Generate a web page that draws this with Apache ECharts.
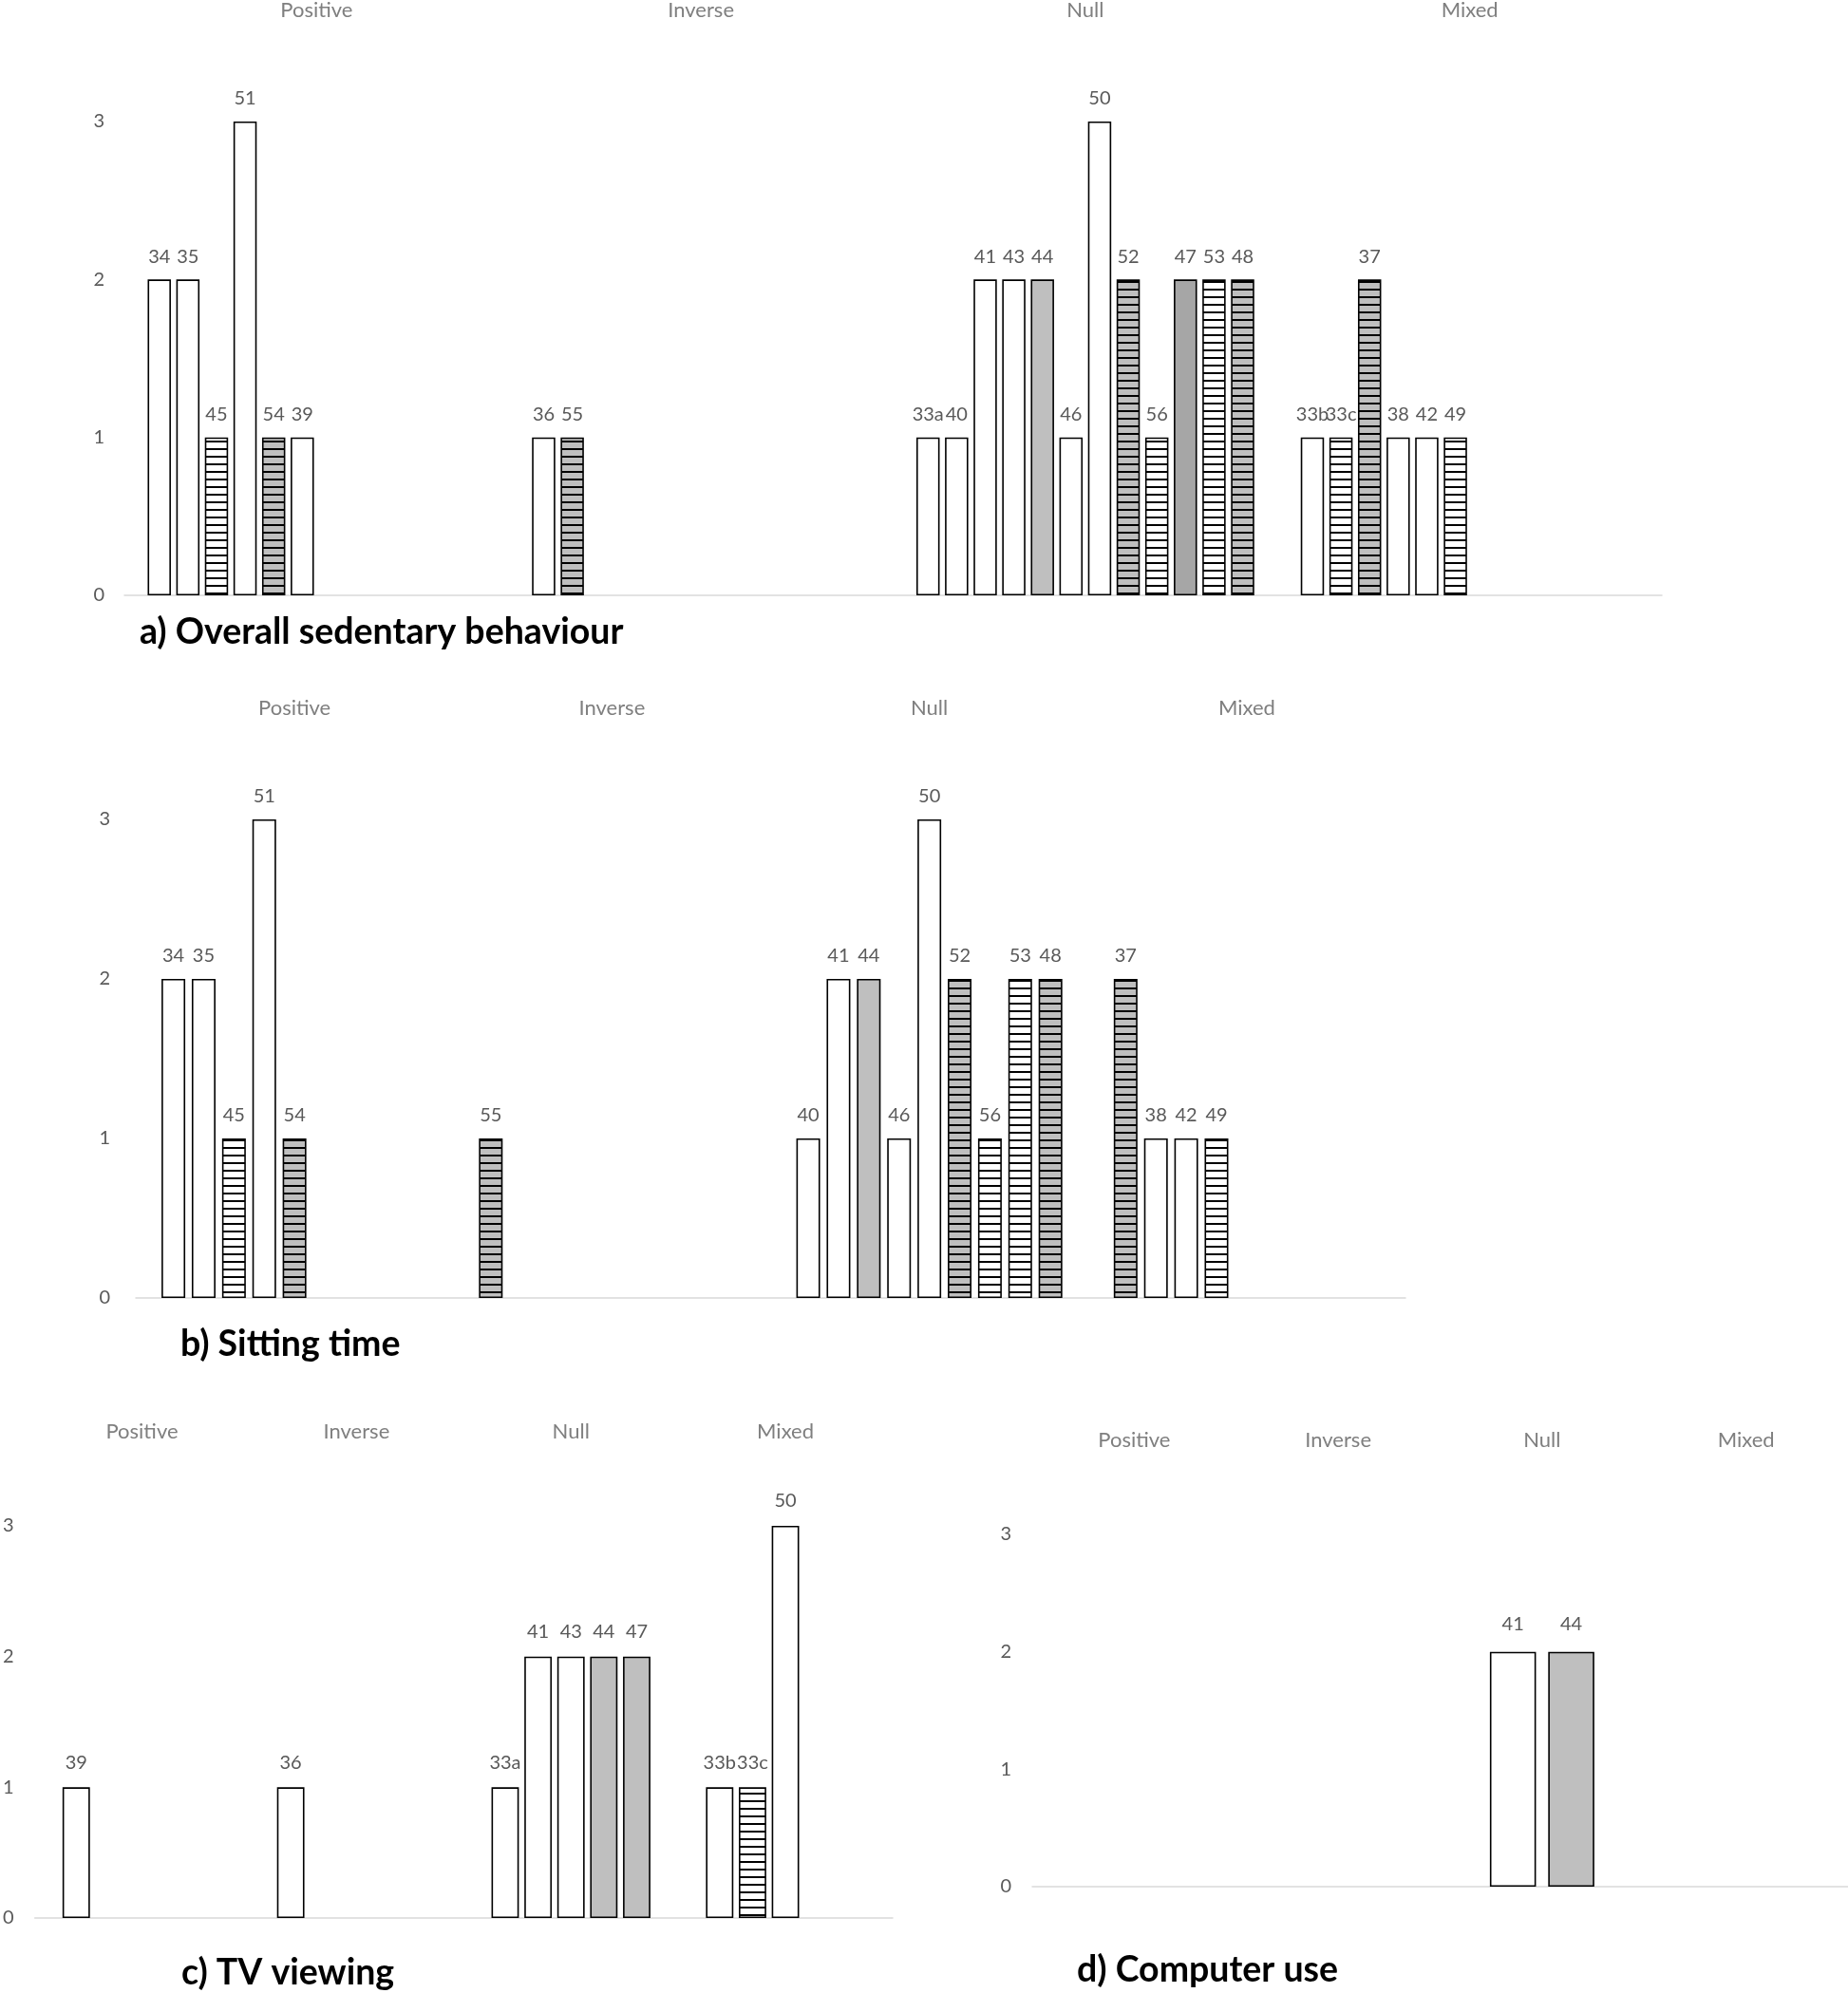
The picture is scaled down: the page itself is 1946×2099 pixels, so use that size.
<!DOCTYPE html>
<html>
<head>
<meta charset="utf-8">
<script src="https://cdn.jsdelivr.net/npm/echarts@6/dist/echarts.min.js"></script>
<style>
  html, body { margin: 0; padding: 0; background: #fff; }
  #chart { width: 1946px; height: 2099px; }
</style>
</head>
<body>
<div id="chart"></div>
<script>
// ---------------- DATA ----------------
const categories = ['Positive', 'Inverse', 'Null', 'Mixed'];
const yTicks = [0, 1, 2, 3];

// Type codes: W = white, G = light grey, D = dark grey, H = white hatched, GH = grey hatched

// a) Overall sedentary behaviour
const aStudies = [
  ['34', '35', '45', '51', '54', '39'],
  ['36', '55'],
  ['33a', '40', '41', '43', '44', '46', '50', '52', '56', '47', '53', '48'],
  ['33b', '33c', '37', '38', '42', '49']
];
const aCounts = [
  [2, 2, 1, 3, 1, 1],
  [1, 1],
  [1, 1, 2, 2, 2, 1, 3, 2, 1, 2, 2, 2],
  [1, 1, 2, 1, 1, 1]
];
const aTypes = [
  ['W', 'W', 'H', 'W', 'GH', 'W'],
  ['W', 'GH'],
  ['W', 'W', 'W', 'W', 'G', 'W', 'W', 'GH', 'H', 'D', 'H', 'GH'],
  ['W', 'H', 'GH', 'W', 'W', 'H']
];

// b) Sitting time
const bStudies = [
  ['34', '35', '45', '51', '54'],
  ['55'],
  ['40', '41', '44', '46', '50', '52', '56', '53', '48'],
  ['37', '38', '42', '49']
];
const bCounts = [
  [2, 2, 1, 3, 1],
  [1],
  [1, 2, 2, 1, 3, 2, 1, 2, 2],
  [2, 1, 1, 1]
];
const bTypes = [
  ['W', 'W', 'H', 'W', 'GH'],
  ['GH'],
  ['W', 'W', 'G', 'W', 'W', 'GH', 'H', 'H', 'GH'],
  ['GH', 'W', 'W', 'H']
];

// c) TV viewing
const cStudies = [
  ['39'],
  ['36'],
  ['33a', '41', '43', '44', '47'],
  ['33b', '33c', '50']
];
const cCounts = [
  [1],
  [1],
  [1, 2, 2, 2, 2],
  [1, 1, 3]
];
const cTypes = [
  ['W'],
  ['W'],
  ['W', 'W', 'W', 'G', 'G'],
  ['W', 'H', 'W']
];

// d) Computer use
const dStudies = [[], [], ['41', '44'], []];
const dCounts = [[], [], [2, 2], []];
const dTypes = [[], [], ['W', 'G'], []];

const panelTitles = ['a) Overall sedentary behaviour', 'b) Sitting time', 'c) TV viewing', 'd) Computer use'];

// ---------------- STYLE ----------------
function hatch(bg) {
  const c = document.createElement('canvas');
  c.width = 8; c.height = 8;
  const ctx = c.getContext('2d');
  ctx.fillStyle = bg; ctx.fillRect(0, 0, 8, 8);
  ctx.fillStyle = '#000'; ctx.fillRect(0, 0, 8, 2);
  return { image: c, repeat: 'repeat' };
}
const FILL = {
  W: '#FFFFFF',
  G: '#BFBFBF',
  D: '#A6A6A6',
  H: hatch('#FFFFFF'),
  GH: hatch('#BFBFBF')
};

const FONT = 'Lato, "Open Sans", sans-serif';

// layout per panel (pixels)
const layouts = [
  { left: 131, top: 124, width: 1619, height: 503, catMargin: 106, yMargin: 21, labelDist: 14, barGap: '23%', catGap: '12.1%' },
  { left: 143, top: 863, width: 1337, height: 504, catMargin: 106, yMargin: 27, labelDist: 14, barGap: '27.6%', catGap: '16.2%' },
  { left: 32, top: 1607, width: 908, height: 413, catMargin: 88, yMargin: 22, labelDist: 16, barGap: '20%', catGap: '25.9%' },
  { left: 1087, top: 1616, width: 868, height: 371, catMargin: 88, yMargin: 22, labelDist: 19, barGap: '26.5%', catGap: '48.8%' }
];
const titlePos = [
  { left: 147, top: 647 },
  { left: 190, top: 1397 },
  { left: 191, top: 2059 },
  { left: 1134, top: 2056 }
];

const panels = [
  [aStudies, aCounts, aTypes],
  [bStudies, bCounts, bTypes],
  [cStudies, cCounts, cTypes],
  [dStudies, dCounts, dTypes]
];

const grid = [], xAxis = [], yAxis = [], series = [], title = [];

panels.forEach(([studies, counts, types], p) => {
  const L = layouts[p];
  grid.push({ left: L.left, top: L.top, width: L.width, height: L.height, containLabel: false });
  // bottom axis: baseline only
  xAxis.push({
    type: 'category', gridIndex: p, data: categories, position: 'bottom',
    axisLine: { show: true, lineStyle: { color: '#D9D9D9', width: 1.5 } },
    axisTick: { show: false }, axisLabel: { show: false }, splitLine: { show: false }
  });
  // top axis: category labels
  xAxis.push({
    type: 'category', gridIndex: p, data: categories, position: 'top',
    axisLine: { show: false }, axisTick: { show: false }, splitLine: { show: false },
    axisLabel: { show: true, margin: L.catMargin, color: '#7F7F7F', fontSize: 22, fontFamily: FONT }
  });
  yAxis.push({
    type: 'value', gridIndex: p, min: yTicks[0], max: yTicks[yTicks.length - 1], interval: 1,
    axisLine: { show: false }, axisTick: { show: false }, splitLine: { show: false },
    axisLabel: { margin: L.yMargin, color: '#595959', fontSize: 20, fontFamily: FONT }
  });
  const nSlots = Math.max(...studies.map(s => s.length));
  for (let k = 0; k < nSlots; k++) {
    const data = categories.map((_, i) => {
      if (k >= studies[i].length) return '-';
      return {
        value: counts[i][k],
        label: { formatter: studies[i][k] },
        itemStyle: { color: FILL[types[i][k]] }
      };
    });
    series.push({
      type: 'bar',
      xAxisIndex: p * 2,
      yAxisIndex: p,
      data: data,
      barGap: L.barGap,
      barCategoryGap: L.catGap,
      itemStyle: { borderColor: '#000', borderWidth: 1.6 },
      label: { show: true, position: 'top', distance: L.labelDist, color: '#595959', fontSize: 20, fontFamily: FONT },
      emphasis: { disabled: true },
      animation: false
    });
  }
  title.push({
    text: panelTitles[p],
    left: titlePos[p].left, top: titlePos[p].top, padding: 0,
    textStyle: { fontFamily: FONT, fontWeight: 'bold', fontSize: 37.5, lineHeight: 38, color: '#000' }
  });
});

const chart = echarts.init(document.getElementById('chart'), null, { renderer: 'canvas' });
chart.setOption({
  backgroundColor: '#fff',
  animation: false,
  title: title,
  grid: grid,
  xAxis: xAxis,
  yAxis: yAxis,
  series: series
});
</script>
</body>
</html>
